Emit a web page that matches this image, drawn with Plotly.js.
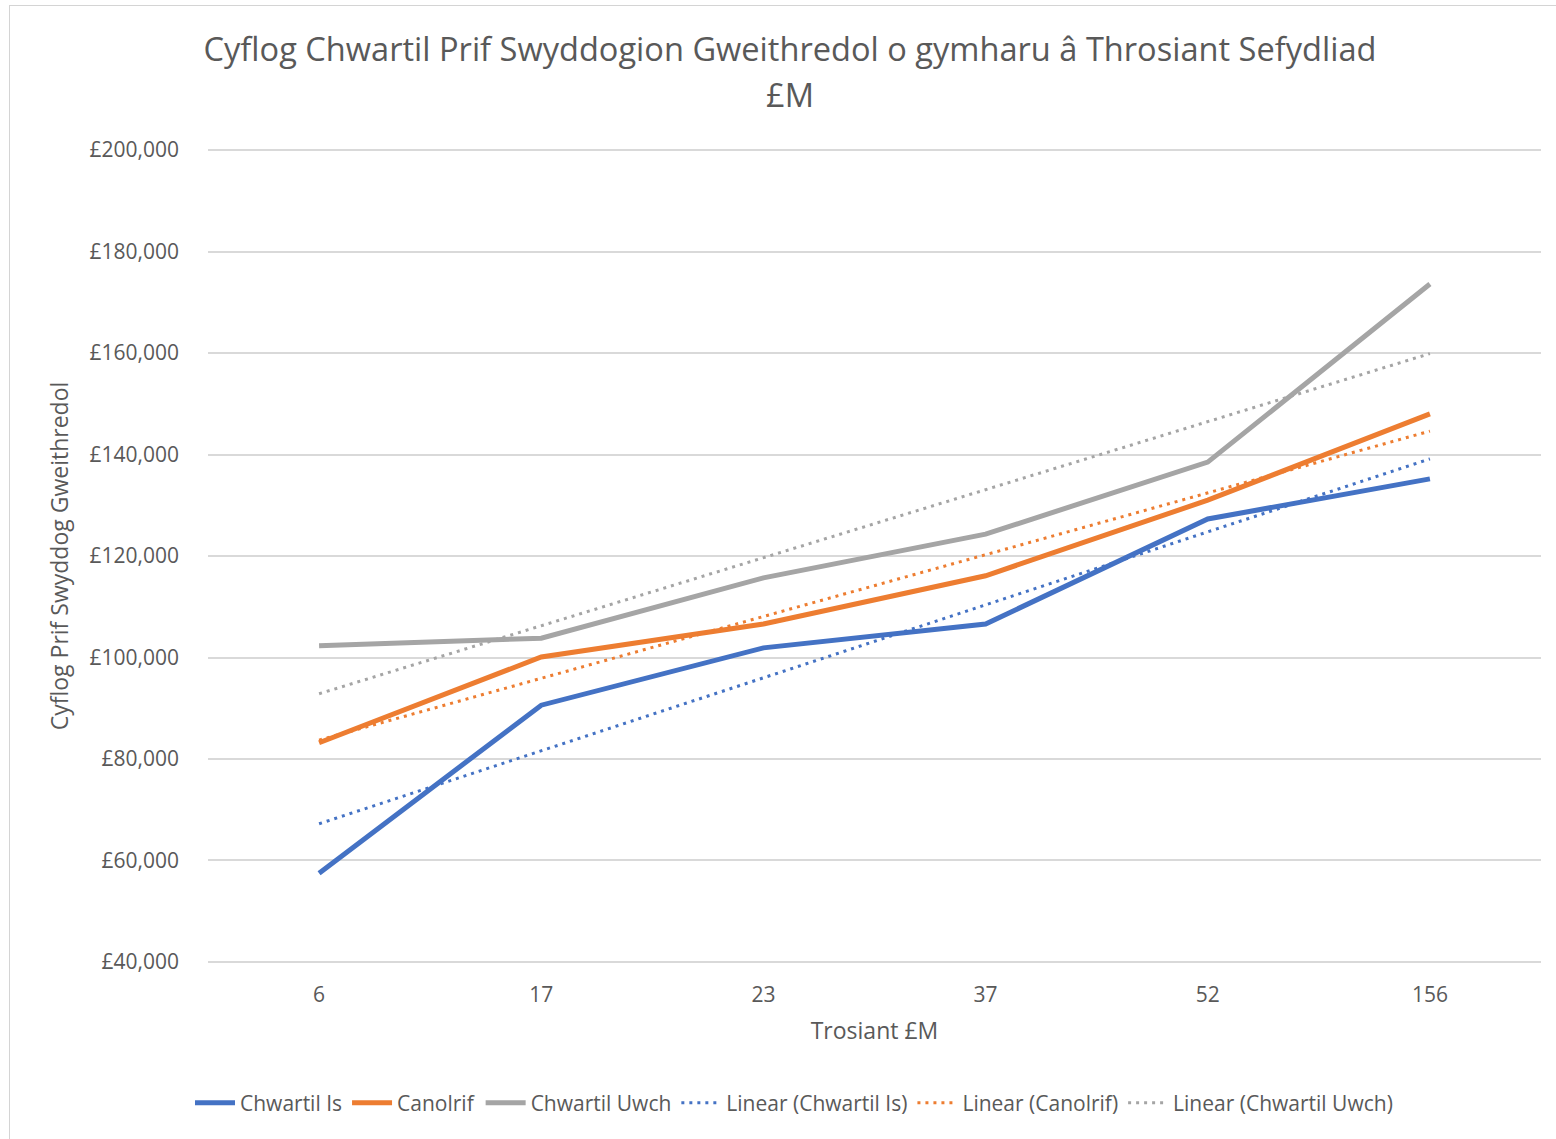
<!DOCTYPE html>
<html>
<head>
<meta charset="utf-8">
<script src="https://cdn.plot.ly/plotly-3.0.1.min.js"></script>
<style>
  html, body { margin: 0; padding: 0; background: #fff; overflow: hidden; }
  #frame { position: absolute; left: 9px; top: 5px; width: 1600px; height: 1200px; border: 1px solid #d4d4d4; box-sizing: border-box; }
  #chart { position: absolute; left: 0; top: 0; width: 1556px; height: 1139px; }
</style>
</head>
<body>
<div id="frame"></div>
<div id="chart"></div>
<script>
// Data
const categories = ['6', '17', '23', '37', '52', '156'];
const chwartilIs = [57500, 90600, 101900, 106600, 127300, 135200];
const canolrif = [83200, 100100, 106600, 116100, 131000, 148000];
const chwartilUwch = [102300, 103800, 115700, 124300, 138500, 173600];
const seriesNames = ['Chwartil Is', 'Canolrif', 'Chwartil Uwch'];
const colors = ['#4472C4', '#ED7D31', '#A5A5A5'];
const titleLine1 = 'Cyflog Chwartil Prif Swyddogion Gweithredol o gymharu â Throsiant Sefydliad';
const titleLine2 = '£M';

// Linear trendline (least squares on category index 1..n), as the spreadsheet does
function linearFit(vals) {
  const n = vals.length;
  const xs = vals.map((_, i) => i + 1);
  const mx = xs.reduce((a, b) => a + b, 0) / n;
  const my = vals.reduce((a, b) => a + b, 0) / n;
  let sxy = 0, sxx = 0;
  for (let i = 0; i < n; i++) { sxy += (xs[i] - mx) * (vals[i] - my); sxx += (xs[i] - mx) ** 2; }
  const slope = sxy / sxx;
  const icpt = my - slope * mx;
  return xs.map(x => icpt + slope * x);
}

const allSeries = [chwartilIs, canolrif, chwartilUwch];
const traces = [];
allSeries.forEach((s, i) => {
  traces.push({
    x: categories, y: s, type: 'scatter', mode: 'lines', name: seriesNames[i],
    line: { color: colors[i], width: 5 }
  });
});
allSeries.forEach((s, i) => {
  traces.push({
    x: categories, y: linearFit(s), type: 'scatter', mode: 'lines', name: 'Linear (' + seriesNames[i] + ')',
    line: { color: colors[i], width: 3, dash: '3px,5px' }
  });
});

const font = "'Open Sans', 'Noto Sans', sans-serif";
const plotTop = 149, plotBottom = 963, plotH = plotBottom - plotTop;
const layout = {
  width: 1556, height: 1139,
  paper_bgcolor: 'rgba(0,0,0,0)', plot_bgcolor: 'rgba(0,0,0,0)',
  margin: { l: 208, r: 15, t: plotTop, b: 1139 - plotBottom, autoexpand: false },
  font: { family: font, color: '#595959' },
  title: {
    text: titleLine1,
    font: { family: font, size: 32.6, color: '#595959' },
    x: 790 / 1556, xref: 'container', xanchor: 'center',
    y: 1 - 50 / 1139, yref: 'container', yanchor: 'middle'
  },
  annotations: [{
    text: titleLine2, showarrow: false,
    font: { family: font, size: 32.6, color: '#595959' },
    xref: 'paper', x: (790 - 208) / 1333, xanchor: 'center',
    yref: 'paper', y: (plotBottom - 95) / plotH, yanchor: 'middle'
  }],
  xaxis: {
    type: 'category', categoryorder: 'array', categoryarray: categories,
    range: [-0.5, 5.5],
    showgrid: false, zeroline: false, showline: false, ticks: '',
    tickfont: { size: 21, color: '#595959' },
    ticklabelstandoff: 17,
    title: { text: 'Trosiant £M', font: { size: 23, color: '#595959' }, standoff: 15 }
  },
  yaxis: {
    range: [39800, 200200], dtick: 20000, tick0: 0,
    tickprefix: '£', tickformat: ',d',
    showgrid: true, gridcolor: '#d9d9d9', gridwidth: 1.5,
    zeroline: false, showline: false, ticks: '',
    tickfont: { size: 21, color: '#595959' },
    ticklabelstandoff: 28,
    title: { text: 'Cyflog Prif Swyddog Gweithredol', font: { size: 23, color: '#595959' }, standoff: 14 }
  },
  showlegend: true,
  legend: {
    orientation: 'h', xref: 'paper', x: (794 - 208) / 1333, xanchor: 'center',
    yref: 'paper', y: (plotBottom - 1103) / plotH, yanchor: 'middle',
    font: { size: 21, color: '#595959' },
    itemwidth: 40, tracegroupgap: 0
  }
};

Plotly.newPlot('chart', traces, layout, { displayModeBar: false, responsive: false });
</script>
</body>
</html>
